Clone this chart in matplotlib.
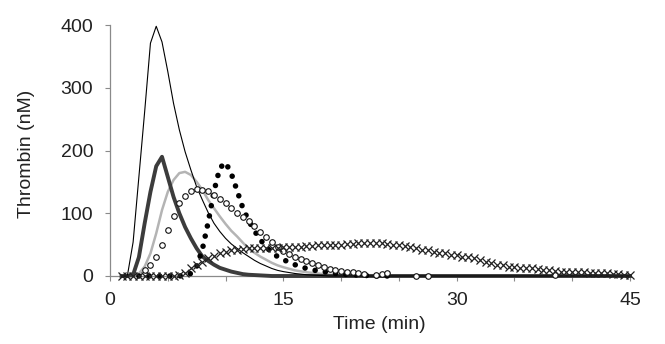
import numpy as np
import matplotlib
matplotlib.use("Agg")
import matplotlib.pyplot as plt

# ---------------- data ----------------
# time grid (min) for the line series, 0.5-min sampling
t_lines = [1.0, 1.5, 2.0, 2.5, 3.0, 3.5, 4.0, 4.5, 5.0, 5.5, 6.0, 6.5, 7.0, 7.5,
           8.0, 8.5, 9.0, 9.5, 10.0, 10.5, 11.0, 11.5, 12.0, 12.5, 13.0, 13.5,
           14.0, 14.5, 15.0, 16.0, 17.0, 18.0, 19.0, 20.0, 21.0, 22.0, 23.0,
           24.0, 25.0, 30.0, 35.0, 40.0, 45.0]

thin_black = [0, 0, 54, 158, 262, 371, 398, 373, 326, 275, 233, 198, 169, 142,
              121, 101, 84, 71, 60, 51, 44, 37, 31, 25, 20, 16,
              12, 9, 7, 4, 2, 1, 0, 0, 0, 0, 0,
              0, 0, 0, 0, 0, 0]

thick_dark = [0, 0, 2, 30, 84, 134, 175, 190, 158, 126, 100, 78, 60, 44,
              31, 24, 18, 13, 10, 7, 5, 3, 2, 1.5, 1, 0.5,
              0, 0, 0, 0, 0, 0, 0, 0, 0, 0, 0,
              0, 0, 0, 0, 0, 0]

light_gray = [0, 0, 0, 4, 15, 36, 68, 105, 134, 153, 164, 166, 161, 150,
              137, 121, 108, 95, 83, 72, 63, 53, 44, 37, 31, 26,
              21, 17, 14, 9, 6, 4, 2, 1, 0, 0, 0,
              0, 0, 0, 0, 0, 0]

t_dotted = [2.5, 3.0, 3.5, 4.0, 4.5, 5.0, 5.5, 6.0, 6.5, 7.0, 7.5, 8.0, 8.5,
            9.0, 9.5, 10.0, 10.5, 11.0, 11.5, 12.0, 12.5, 13.0, 13.5, 14.0,
            14.5, 15.0, 15.5, 16.0, 16.5, 17.0, 17.5, 18.0, 18.5, 19.0, 19.5,
            20.0, 21.0, 22.0, 23.0, 24.0]
filled_dots = [0, 0, 0, 0, 0, 0, 0, 0, 1, 4, 15, 43, 86,
               135, 172, 181, 163, 136, 108, 88, 72, 58, 47, 37,
               31, 26, 22, 18, 15, 12, 10, 8, 7, 5, 4,
               3, 2, 1, 0, 0]

t_open = [3.0, 3.5, 4.0, 4.5, 5.0, 5.5, 6.0, 6.5, 7.0, 7.5, 8.0, 8.5, 9.0,
          9.5, 10.0, 10.5, 11.0, 11.5, 12.0, 12.5, 13.0, 13.5, 14.0, 14.5,
          15.0, 15.5, 16.0, 16.5, 17.0, 17.5, 18.0, 18.5, 19.0, 19.5, 20.0,
          20.5, 21.0, 21.5, 22.0, 23.0, 23.5, 24.0, 26.5, 27.5, 38.5]
open_circles = [10, 17, 31, 50, 74, 96, 116, 127, 135, 138, 137, 135, 129,
                123, 116, 108, 101, 94, 88, 79, 70, 62, 54, 46,
                40, 35, 30, 27, 24, 20, 17, 14, 11, 9, 7.5,
                7, 6, 4.5, 3, 2, 3, 5, 0, 0, 2]

t_cross = [1.0, 1.5, 2.0, 2.5, 3.0, 3.5, 4.0, 4.5, 5.0, 5.5, 6.0, 6.5, 7.0,
           7.5, 8.0, 8.5, 9.0, 9.5, 10.0, 10.5, 11.0, 11.5, 12.0, 12.5, 13.0,
           13.5, 14.0, 14.5, 15.0, 15.5, 16.0, 16.5, 17.0, 17.5, 18.0, 18.5,
           19.0, 19.5, 20.0, 20.5, 21.0, 21.5, 22.0, 22.5, 23.0, 23.5, 24.0,
           24.5, 25.0, 25.5, 26.0, 26.5, 27.0, 27.5, 28.0, 28.5, 29.0, 29.5,
           30.0, 30.5, 31.0, 31.5, 32.0, 32.5, 33.0, 33.5, 34.0, 34.5, 35.0,
           35.5, 36.0, 36.5, 37.0, 37.5, 38.0, 38.5, 39.0, 39.5, 40.0, 40.5,
           41.0, 41.5, 42.0, 42.5, 43.0, 43.5, 44.0, 44.5, 45.0]
crosses = [0, 0, 0, 0, 0, 0, 0, 0, 0, 0, 1, 5, 12,
           18, 23, 28, 32, 36, 39, 41, 42, 43, 44, 44, 44,
           45, 45, 45, 46, 46, 47, 47, 48, 48, 49, 49,
           50, 50, 50, 51, 51, 52, 52, 52, 52, 52, 51,
           50, 49, 48, 46, 44, 42, 41, 39, 37, 36, 34,
           33, 31, 30, 28, 26, 23, 20, 18, 17, 15, 14,
           13, 13, 12, 11, 10, 9, 8, 7, 7, 6, 6,
           6, 5, 5, 4, 4, 3, 3, 2, 2]

x_ticks = [0, 5, 10, 15, 20, 25, 30, 35, 40, 45]
x_ticklabels = ["0", "", "", "15", "", "", "30", "", "", "45"]
y_ticks = [0, 100, 200, 300, 400]
y_ticklabels = ["0", "100", "200", "300", "400"]

# ---------------- figure ----------------
plt.rcParams['font.family'] = ['Liberation Sans', 'DejaVu Sans']

W, H = 665, 344
fig = plt.figure(figsize=(W / 100, H / 100), dpi=100)
ax = fig.add_axes([110 / W, (H - 276) / H, 520 / W, 251 / H])

ax.plot(t_lines, light_gray, color='#b4b4b4', lw=1.8, solid_joinstyle='round',
        clip_on=False, zorder=2)
ax.plot(t_lines, thick_dark, color='#3c3c3c', lw=2.8, solid_joinstyle='round',
        clip_on=False, zorder=3)
ax.plot(t_lines, thin_black, color='#000000', lw=0.8, clip_on=False, zorder=4)
ax.plot(t_dotted, filled_dots, color='#000000', lw=4.0,
        linestyle=(0, (0.01, 1.85)), dash_capstyle='round',
        clip_on=False, zorder=5)
ax.plot(t_open, open_circles, linestyle='none', marker='o', ms=4.0,
        mfc='white', mec='#111111', mew=0.8, clip_on=False, zorder=6)
ax.plot(t_cross, crosses, linestyle='none', marker='x', ms=5.8,
        mec='#222222', mew=0.9, clip_on=False, zorder=7)

ax.set_xlim(0, 45)
ax.set_ylim(0, 400)
ax.set_xticks(x_ticks)
ax.set_xticklabels(x_ticklabels)
ax.set_yticks(y_ticks)
ax.set_yticklabels(y_ticklabels)

for s in ['top', 'right']:
    ax.spines[s].set_visible(False)
for s in ['left', 'bottom']:
    ax.spines[s].set_color('#8a8a8a')
    ax.spines[s].set_linewidth(0.9)

ax.tick_params(axis='both', direction='out', length=3.6, width=0.8,
               color='#8a8a8a', labelsize=14, labelcolor='#222222')
ax.tick_params(axis='x', pad=8)
ax.tick_params(axis='y', pad=8.5)

ax.set_xlabel('Time (min)', fontsize=14, color='#222222')
ax.set_ylabel('Thrombin (nM)', fontsize=14, color='#222222')
ax.xaxis.set_label_coords((379 - 110) / 520, (276 - 316) / 251)
ax.yaxis.set_label_coords((35 - 110) / 520, (276 - 154) / 251)

fig.savefig('out.png', dpi=100)
